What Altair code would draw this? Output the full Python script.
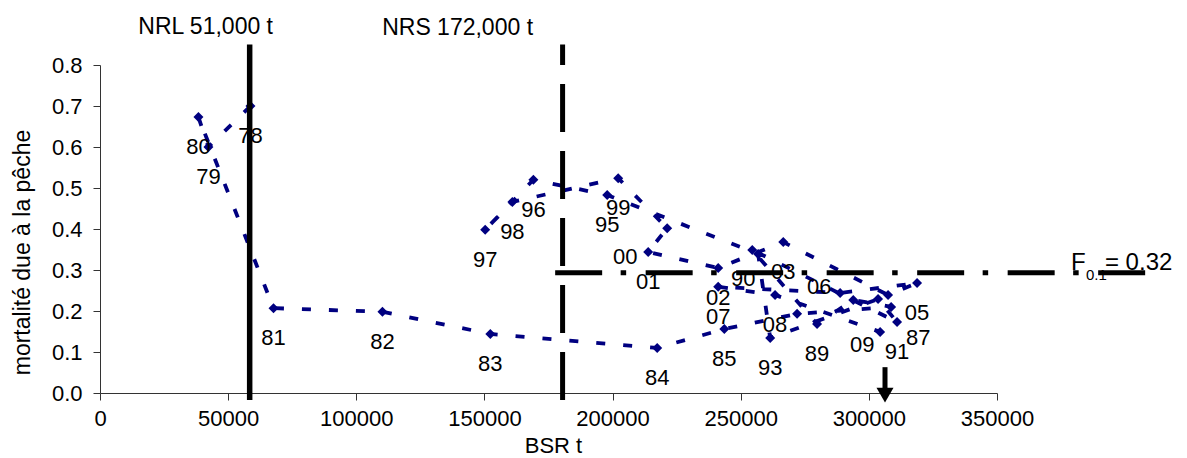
import altair as alt
import pandas as pd

# ---- data ----
years = ["78", "79", "80", "81", "82", "83", "84", "85", "86", "87", "88", "89",
         "90", "91", "92", "93", "94", "95", "96", "97", "98", "99",
         "00", "01", "02", "03", "04", "05", "06", "07", "08", "09"]
bsr = [58700, 42300, 38400, 67700, 110200, 152300, 217400, 243600, 272000, 308700,
       293900, 279800, 254500, 311000, 303600, 261500, 256800, 197900, 169100, 150300,
       160900, 202200, 221300, 213900, 241200, 266600, 307500, 318800, 288800, 241200,
       263400, 304400]
fmort = [0.700, 0.600, 0.673, 0.207, 0.198, 0.144, 0.110, 0.156, 0.193, 0.210,
         0.227, 0.168, 0.349, 0.173, 0.229, 0.134, 0.339, 0.483, 0.520, 0.398,
         0.466, 0.524, 0.402, 0.344, 0.305, 0.368, 0.239, 0.268, 0.244, 0.259,
         0.239, 0.149]
unlabeled = ["86", "88", "92", "94", "04"]

x_ticks = [0, 50000, 100000, 150000, 200000, 250000, 300000, 350000]
y_ticks = [0.0, 0.1, 0.2, 0.3, 0.4, 0.5, 0.6, 0.7, 0.8]

nrl_x = 58400        # drawn position of the NRL line
nrs_x = 180500       # drawn position of the NRS line
line_bottom = -0.017
line_top = 0.85
f01_y = 0.2934
f01_x_start = 177600
f01_x_end = 408500
arrow_x = 306300
arrow_top = 0.063
arrow_shaft_end = 0.012
arrow_head = -0.005

# ---- styles ----
NAVY = "#000080"
FONT = "Liberation Sans"
FS = 22

# label placement (pixel offsets from the point), default: below
LABEL_NUDGE = {"00": (-42, 29), "06": (-21, -6), "87": (27, 31), "09": (-18, 13), "90": (-9, 29)}
DEFAULT_NUDGE = (0, 30)

df = pd.DataFrame({"year": years, "bsr": bsr, "f": fmort, "idx": list(range(len(years)))})

xs = alt.Scale(domain=[0, 350000], nice=False, zero=False)
ys = alt.Scale(domain=[0, 0.8], nice=False, zero=False)

x_axis = alt.Axis(values=x_ticks, format="d", grid=False, labelFlush=False, labelOverlap=False,
                  tickSize=7, labelPadding=8, domainColor="#333333", tickColor="#333333",
                  labelFont=FONT, labelFontSize=FS, labelColor="black",
                  title="BSR t", titleFont=FONT, titleFontSize=FS, titleFontWeight="normal",
                  titleColor="black", titleX=453, titleY=59, titleBaseline="alphabetic",
                  titleAlign="center")
y_axis = alt.Axis(values=y_ticks, format=".1f", grid=False, labelFlush=False, labelOverlap=False,
                  tickSize=7, labelPadding=11, domainColor="#333333", tickColor="#333333",
                  labelFont=FONT, labelFontSize=FS, labelColor="black",
                  title="mortalité due à la pêche", titleFont=FONT, titleFontSize=23,
                  titleFontWeight="normal", titleColor="black", titleX=-78, titleY=187,
                  titleAngle=270, titleAlign="center", titleBaseline="middle")

X = alt.X("bsr:Q", scale=xs, axis=x_axis)
Y = alt.Y("f:Q", scale=ys, axis=y_axis)

series = alt.Chart(df).mark_line(color=NAVY, strokeWidth=3.8, strokeDash=[9, 18]).encode(
    x=X, y=Y, order="idx:Q")
points = alt.Chart(df).mark_point(shape="diamond", filled=True, size=100, color=NAVY,
                                  opacity=1).encode(x=X, y=Y)

labels_df = df[~df["year"].isin(unlabeled)]
label_layers = []
default_years = [y for y in labels_df["year"] if y not in LABEL_NUDGE]
label_layers.append(
    alt.Chart(labels_df[labels_df["year"].isin(default_years)]).mark_text(
        font=FONT, fontSize=FS, color="black", dx=DEFAULT_NUDGE[0], dy=DEFAULT_NUDGE[1],
        align="center", baseline="middle").encode(x=X, y=Y, text="year:N"))
for yr, (ddx, ddy) in LABEL_NUDGE.items():
    label_layers.append(
        alt.Chart(labels_df[labels_df["year"] == yr]).mark_text(
            font=FONT, fontSize=FS, color="black", dx=ddx, dy=ddy,
            align="center", baseline="middle").encode(x=X, y=Y, text="year:N"))

nrl_df = pd.DataFrame({"bsr": [nrl_x], "f": [line_bottom], "f2": [line_top],
                       "label": ["NRL 51,000 t"]})
nrs_df = pd.DataFrame({"bsr": [nrs_x], "f": [line_bottom], "f2": [line_top],
                       "label": ["NRS 172,000 t"]})
nrl_line = alt.Chart(nrl_df).mark_rule(color="black", strokeWidth=5.5).encode(
    x=X, y=Y, y2="f2:Q")
nrs_line = alt.Chart(nrs_df).mark_rule(color="black", strokeWidth=5, strokeDash=[48, 19]).encode(
    x=X, y=Y, y2="f2:Q")
nrl_text = alt.Chart(nrl_df).mark_text(font=FONT, fontSize=23, color="black", dx=-44, dy=-18,
                                       align="center", baseline="middle").encode(
    x=X, y=alt.Y("f2:Q", scale=ys, axis=y_axis), text="label:N")
nrs_text = alt.Chart(nrs_df).mark_text(font=FONT, fontSize=23, color="black", dx=-105, dy=-17,
                                       align="center", baseline="middle").encode(
    x=X, y=alt.Y("f2:Q", scale=ys, axis=y_axis), text="label:N")

f_df = pd.DataFrame({"bsr": [f01_x_start], "bsr2": [f01_x_end], "f": [f01_y]})
f_line = alt.Chart(f_df).mark_rule(color="black", strokeWidth=5,
                                   strokeDash=[47, 18.5, 5.5, 19.5]).encode(
    x=X, x2="bsr2:Q", y=Y)
f_lbl_df = pd.DataFrame({"bsr": [f01_x_end], "f": [f01_y]})
f_txt1 = alt.Chart(f_lbl_df).mark_text(text="F", font=FONT, fontSize=24, color="black",
                                       align="left", baseline="alphabetic", dx=-76, dy=-3).encode(x=X, y=Y)
f_txt2 = alt.Chart(f_lbl_df).mark_text(text="0.1", font=FONT, fontSize=15, color="black",
                                       align="left", baseline="alphabetic", dx=-61, dy=7).encode(x=X, y=Y)
f_txt3 = alt.Chart(f_lbl_df).mark_text(text="= 0.32", font=FONT, fontSize=24, color="black",
                                       align="left", baseline="alphabetic", dx=-42, dy=-3).encode(x=X, y=Y)

arrow_df = pd.DataFrame({"bsr": [arrow_x], "f": [arrow_shaft_end], "f2": [arrow_top],
                         "fh": [arrow_head]})
arrow_shaft = alt.Chart(arrow_df).mark_rule(color="black", strokeWidth=5).encode(
    x=X, y=Y, y2="f2:Q")
arrow_headm = alt.Chart(arrow_df).mark_point(shape="triangle-down", filled=True, size=290,
                                             color="black", opacity=1).encode(
    x=X, y=alt.Y("fh:Q", scale=ys, axis=y_axis))

chart = alt.layer(
    series, points, *label_layers,
    f_line, nrl_line, nrs_line, nrl_text, nrs_text, f_txt1, f_txt2, f_txt3,
    arrow_shaft, arrow_headm
).properties(
    width=897, height=328,
    autosize=alt.AutoSizeParams(type="none"),
    padding={"left": 92, "top": 57, "right": 182, "bottom": 65},
    background="white"
).configure_view(stroke=None)

chart.save("out.html", embed_options={"renderer": "svg", "actions": False})
